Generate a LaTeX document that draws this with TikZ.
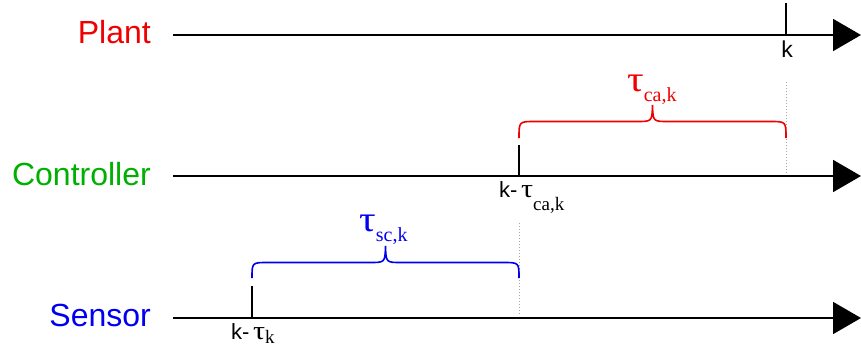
\documentclass[tikz,border=0pt]{standalone}
\usepackage{fontspec}
\usepackage{graphicx}
\setmainfont{Liberation Sans}
\newfontfamily\taufont{Liberation Serif}
\usetikzlibrary{arrows.meta}
\definecolor{cred}{RGB}{240,0,0}
\definecolor{cgreen}{RGB}{0,176,0}
\definecolor{cblue}{RGB}{0,0,240}
\newcommand\taulab[5]{{\fontsize{#1}{#1}\selectfont\taufont\scalebox{#5}[1]{τ}}\raisebox{-#3}{\fontsize{#2}{#2}\selectfont\taufont #4}}
\begin{document}
\begin{tikzpicture}[x=1pt,y=-1pt,
  axis/.style={line width=1.8pt,-{Triangle[length=28pt,width=32pt]}},
  tick/.style={line width=1.8pt},
  guide/.style={gray!70,line width=1pt,dash pattern=on 1pt off 2pt},
  brace/.style={line width=1.6pt},
  lane/.style={anchor=base east,inner sep=0pt,font=\fontsize{32}{36}\selectfont},
  tlab/.style={inner sep=0pt,font=\fontsize{22}{24}\selectfont}]
\useasboundingbox (0,0) rectangle (861,351);
% lane labels
\node[lane,text=cred] (plant) at (151,43) {Plant};
\node[lane,text=cgreen] (ctrl) at (151,185) {Controller};
\node[lane,text=cblue] (sens) at (151,326) {Sensor};
% axes
\coordinate (p0) at (173,35);  \coordinate (p1) at (861,35);
\coordinate (c0) at (173,176); \coordinate (c1) at (861,176);
\coordinate (s0) at (173,318); \coordinate (s1) at (861,318);
\draw[axis] (p0) -- (p1);
\draw[axis] (c0) -- (c1);
\draw[axis] (s0) -- (s1);
% ticks
\coordinate (tp) at (786,35);  \coordinate (tpt) at (786,3);
\coordinate (tc) at (519,176); \coordinate (tct) at (519,145);
\coordinate (ts) at (252,318); \coordinate (tst) at (252,286);
\draw[tick] (tp) -- (tpt);
\draw[tick] (tc) -- (tct);
\draw[tick] (ts) -- (tst);
% guides
\coordinate (gp0) at (786,173); \coordinate (gp1) at (786,82);
\coordinate (gc0) at (519,314); \coordinate (gc1) at (519,222);
\draw[guide] (gp0) -- (gp1);
\draw[guide] (gc0) -- (gc1);
% tick labels
\node[tlab,anchor=base] (kp) at (787,57) {\fontsize{23}{24}\selectfont k};
\node[tlab,anchor=base west] (kc) at (499,197.5) {k-\,\taulab{26}{19}{13pt}{ca,k}{1.15}};
\node[tlab,anchor=base west] (ks) at (231,339.5) {k-\,\taulab{26}{19}{3.5pt}{k}{1.15}};
% braces
\draw[brace,cred] (519,138) .. controls (519,121.5) and (519,121.5) .. (535,121.5)
  -- (637,121.5) .. controls (652,121.5) and (652,121.5) .. (652.5,105)
  .. controls (653,121.5) and (653,121.5) .. (668,121.5)
  -- (770,121.5) .. controls (786,121.5) and (786,121.5) .. (786,138);
\draw[brace,cblue] (252,278) .. controls (252,262.5) and (252,262.5) .. (268,262.5)
  -- (370,262.5) .. controls (385,262.5) and (385,262.5) .. (385.5,246)
  .. controls (386,262.5) and (386,262.5) .. (401,262.5)
  -- (503,262.5) .. controls (519,262.5) and (519,262.5) .. (519,278);
% brace labels
\node[inner sep=0pt,anchor=base west,text=cred] (tca) at (627,91) {\taulab{36}{20}{10pt}{ca,k}{1.15}};
\node[inner sep=0pt,anchor=base west,text=cblue] (tsc) at (359,231) {\taulab{36}{20}{10.5pt}{sc,k}{1.15}};
\end{tikzpicture}
\end{document}
